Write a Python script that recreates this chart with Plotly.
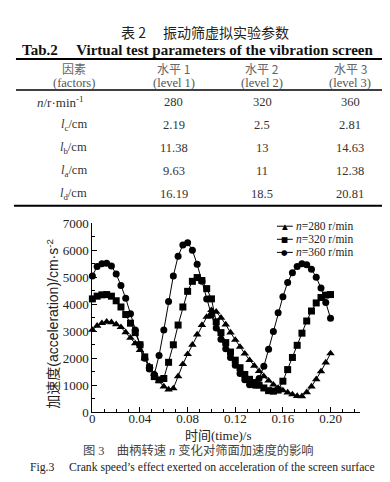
import plotly.graph_objects as go

W, H = 390, 482

# ---------------- table data ----------------
table_title_cn = "表 2　 振动筛虚拟实验参数"
table_title_en = "Tab.2　 Virtual test parameters of the vibration screen"
header_cn = ["因素", "水平 1", "水平 2", "水平 3"]
header_en = ["(factors)", "(level 1)", "(level 2)", "(level 3)"]
factors = ["<i>n</i>/r·min<sup>-1</sup>", "<i>l</i><sub>c</sub>/cm", "<i>l</i><sub>b</sub>/cm",
           "<i>l</i><sub>a</sub>/cm", "<i>l</i><sub>d</sub>/cm"]
level1 = ["280", "2.19", "11.38", "9.63", "16.19"]
level2 = ["320", "2.5", "13", "11", "18.5"]
level3 = ["360", "2.81", "14.63", "12.38", "20.81"]

# ---------------- chart data ----------------
time_s = [0.000, 0.004, 0.008, 0.012, 0.016, 0.020, 0.024, 0.028, 0.032, 0.036,
          0.040, 0.044, 0.048, 0.052, 0.056, 0.060, 0.064, 0.068, 0.072, 0.076,
          0.080, 0.084, 0.088, 0.092, 0.096, 0.100, 0.104, 0.108, 0.112, 0.116,
          0.120, 0.124, 0.128, 0.132, 0.136, 0.140, 0.144, 0.148, 0.152, 0.156,
          0.160, 0.164, 0.168, 0.172, 0.176, 0.180, 0.184, 0.188, 0.192, 0.196,
          0.200]
acc_280 = [3050, 3200, 3300, 3350, 3330, 3260, 3150, 2960, 2760, 2550,
           2300, 2000, 1700, 1420, 1150, 950, 840, 880, 1330, 1780,
           2150, 2500, 2880, 3230, 3530, 3780, 3720, 3500, 3250, 2950,
           2680, 2420, 2170, 1930, 1720, 1520, 1330, 1170, 1020, 900,
           810, 730, 660, 600, 590, 740, 950, 1220, 1510, 1840,
           2180]
acc_320 = [4200, 4300, 4350, 4360, 4300, 4130, 3900, 3620, 3300, 2950,
           2500, 2050, 1650, 1320, 1200, 1250, 1850, 2500, 3230, 3900,
           4480, 4850, 4990, 4880, 4580, 4200, 3350, 2950, 2580, 2230,
           1930, 1650, 1400, 1220, 1100, 1000, 900, 800, 780, 820,
           1150, 1580, 2030, 2480, 2930, 3380, 3750, 4050, 4250, 4340,
           4360]
acc_360 = [5050, 5400, 5500, 5520, 5420, 5120, 4700, 4220, 3650, 3050,
           2500, 2000, 1600, 1400, 2100, 3050, 4100, 5050, 5780, 6200,
           6280, 6000, 5480, 4850, 4200, 3600, 3120, 2700, 2350, 2030,
           1740, 1440, 1200, 1020, 1000, 1250, 1700, 2330, 2990, 3690,
           4280, 4810, 5170, 5400, 5500, 5460, 5300, 5000, 4600, 4070,
           3480]
series_names = ["n=280 r/min", "n=320 r/min", "n=360 r/min"]
legend_labels = ["<i>n</i>=280 r/min", "<i>n</i>=320 r/min", "<i>n</i>=360 r/min"]
series_symbols = ["triangle-up", "square", "circle"]
legend_glyphs = ["▲", "■", "●"]
x_tickvals = [0, 0.04, 0.08, 0.12, 0.16, 0.20]
x_ticktext = ["0", "0.04", "0.08", "0.12", "0.16", "0.20"]
y_tickvals = [0, 1000, 2000, 3000, 4000, 5000, 6000, 7000]

SERIF = "Liberation Serif, Noto Sans CJK SC"
CJK = "Noto Sans CJK SC"
INK = "#1e1e1e"


def px(x):
    return x / W


def py(y):
    return 1 - y / H


fig = go.Figure()
for name, ys, sym, msize in zip(series_names, [acc_280, acc_320, acc_360], series_symbols, [7.5, 7, 7]):
    fig.add_trace(go.Scatter(
        x=time_s, y=ys, mode="lines+markers", name=name,
        line=dict(color="black", width=1),
        marker=dict(symbol=sym, size=msize, color="black"),
        showlegend=False, cliponaxis=False))

ann = []
shapes = []


def text(x, y, s, size, family=SERIF, color=INK, xanchor="center", angle=0, yanchor="middle"):
    ann.append(dict(x=px(x), y=py(y), xref="paper", yref="paper", text=s, showarrow=False,
                    xanchor=xanchor, yanchor=yanchor, textangle=angle,
                    font=dict(family=family, size=size, color=color)))


def hline(x0, x1, y, w):
    shapes.append(dict(type="line", xref="paper", yref="paper", x0=px(x0), x1=px(x1),
                       y0=py(y), y1=py(y), line=dict(color="black", width=w)))


# table
text(195, 18, table_title_cn, 14, family=CJK, color="#222")
text(188, 36.5, "<b>" + table_title_en + "</b>", 15, family=SERIF, color="#111")
hline(5, 388, 45.5, 2)
col_x = [63, 164, 253, 342]
for cx, hc, he in zip(col_x, header_cn, header_en):
    text(cx, 55, hc, 12, family=CJK, color="#666")
    text(cx, 70, he, 12.5, color="#555")
hline(5, 388, 77.5, 1.5)
row_y = [90, 113.5, 137, 161.5, 185]
label_x = [50, 63, 63, 63, 63]
label_size = [13, 12.5, 12.5, 12.5, 12.5]
for ry, lx, ls, f, a, b, c in zip(row_y, label_x, label_size, factors, level1, level2, level3):
    text(lx, ry, f, ls, color="#333")
    text(col_x[1], ry, a, 12.5, color="#333")
    text(col_x[2], ry, b, 12.5, color="#333")
    text(col_x[3], ry, c, 12.5, color="#333")
hline(3, 388, 197, 2)

# legend (manual, compact)
leg_y = [218, 231.5, 245]
for ly, g, lab in zip(leg_y, legend_glyphs, legend_labels):
    hline(268, 284, ly, 1)
    text(276, ly, g, 7.5, family="DejaVu Sans", color="black")
    text(285, ly, lab, 11.5, xanchor="left", color="#222")

# axis titles and captions
text(209, 434.5, "时间(time)/s", 13, family=SERIF, color="#222")
text(42, 319, "加速度(acceleration)/cm·s<sup>-2</sup>", 14, family="Liberation Sans, Noto Sans CJK SC",
     color="#222", angle=-90)
text(189, 449, "图 3　曲柄转速 <i>n</i> 变化对筛面加速度的影响", 12.3, family=SERIF, color="#444")
text(193, 467, "Fig.3　 Crank speed’s effect exerted on acceleration of the screen surface", 11.7,
     family=SERIF, color="#222")

fig.update_layout(
    width=W, height=H, margin=dict(l=0, r=0, t=0, b=0),
    paper_bgcolor="white", plot_bgcolor="white",
    annotations=ann, shapes=shapes, showlegend=False,
    xaxis=dict(domain=[px(82), px(352)], range=[0, 0.225], showline=True, linecolor="black",
               linewidth=1, ticks="inside", ticklen=5, tickcolor="black",
               tickvals=x_tickvals, ticktext=x_ticktext, showgrid=False, zeroline=False,
               ticklabelstandoff=-6,
               minor=dict(dtick=0.01, tick0=0, ticks="inside", ticklen=3, tickcolor="black"),
               tickfont=dict(family=SERIF, size=13, color="#222")),
    yaxis=dict(domain=[py(410), py(215)], range=[0, 7000], showline=True, linecolor="black",
               linewidth=1, ticks="inside", ticklen=5, tickcolor="black",
               tickvals=y_tickvals, showgrid=False, zeroline=False,
               minor=dict(dtick=500, tick0=0, ticks="inside", ticklen=3, tickcolor="black"),
               tickfont=dict(family=SERIF, size=13, color="#222")),
)

fig.write_html("out.html")
